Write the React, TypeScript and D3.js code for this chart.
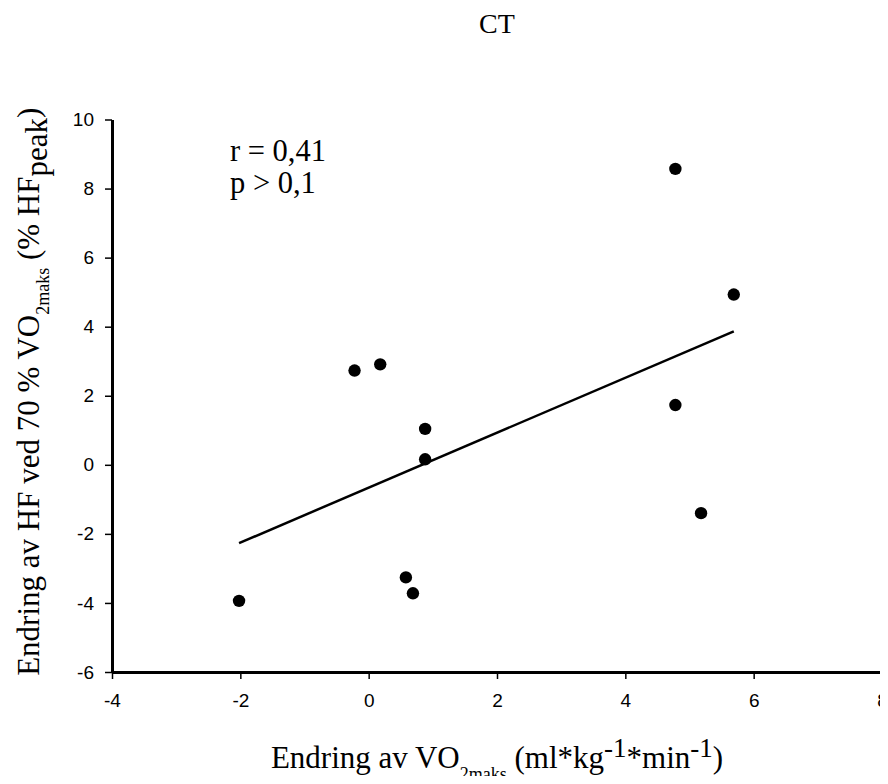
import React, { useRef, useEffect } from 'react';
import * as d3 from 'd3';

// change in VO2max (x) vs change in HR at 70 % VO2max (y), CT group
const xValues = [-2.02, -0.22, 0.18, 0.88, 0.88, 0.58, 0.69, 4.78, 5.69, 4.78, 5.18];
const yValues = [-3.94, 2.73, 2.91, 1.04, 0.16, -3.26, -3.72, 8.57, 4.93, 1.73, -1.4];
const xTicks = [-4, -2, 0, 2, 4, 6, 8];
const yTicks = [-6, -4, -2, 0, 2, 4, 6, 8, 10];
const statLines = ['r = 0,41', 'p > 0,1'];

const App = () => {
  const svgRef = useRef(null);

  useEffect(() => {
    const svg = d3.select(svgRef.current);
    svg.selectAll('*').remove();

    const serif = '"Liberation Serif", "Times New Roman", serif';
    const sans = '"Liberation Sans", Arial, sans-serif';

    const left = 112, right = 882, top = 119.5, bottom = 672;
    const midX = (left + right) / 2;
    const midY = (top + bottom) / 2;

    const x = d3.scaleLinear().domain([-4, 8]).range([left, right]);
    const y = d3.scaleLinear().domain([-6, 10]).range([bottom, top]);

    const data = xValues.map((v, i) => ({ x: v, y: yValues[i] }));

    // least squares fit over the data's x extent
    const mx = d3.mean(xValues);
    const my = d3.mean(yValues);
    const sxy = d3.sum(data, d => (d.x - mx) * (d.y - my));
    const sxx = d3.sum(data, d => (d.x - mx) ** 2);
    const slope = sxy / sxx;
    const icpt = my - slope * mx;
    const [x0, x1] = d3.extent(xValues);

    svg.append('line')
      .attr('x1', x(x0)).attr('y1', y(icpt + slope * x0))
      .attr('x2', x(x1)).attr('y2', y(icpt + slope * x1))
      .attr('stroke', '#000')
      .attr('stroke-width', 2.5);

    svg.selectAll('.dot')
      .data(data)
      .enter().append('circle')
      .attr('class', 'dot')
      .attr('cx', d => x(d.x))
      .attr('cy', d => y(d.y))
      .attr('r', 6.2)
      .attr('fill', '#000');

    const fmt = d => String(d);

    const xAxis = svg.append('g')
      .attr('transform', `translate(0,${bottom})`)
      .call(d3.axisBottom(x).tickValues(xTicks).tickFormat(fmt).tickSize(7).tickSizeOuter(0).tickPadding(15));

    const yAxis = svg.append('g')
      .attr('transform', `translate(${left},0)`)
      .call(d3.axisLeft(y).tickValues(yTicks).tickFormat(fmt).tickSize(7).tickSizeOuter(0).tickPadding(11));

    [xAxis, yAxis].forEach(ax => {
      ax.select('.domain').attr('stroke-width', 3).attr('stroke', '#000');
      ax.selectAll('.tick line').attr('stroke-width', 1.5).attr('stroke', '#000');
      ax.selectAll('.tick text')
        .attr('font-family', sans)
        .attr('font-size', 19)
        .attr('fill', '#000');
    });

    // title
    svg.append('text')
      .attr('x', midX)
      .attr('y', 33)
      .attr('text-anchor', 'middle')
      .attr('font-family', serif)
      .attr('font-size', 28)
      .text('CT');

    // r and p annotations
    svg.selectAll('.stat')
      .data(statLines)
      .enter().append('text')
      .attr('class', 'stat')
      .attr('x', 230)
      .attr('y', (d, i) => 161 + i * 32)
      .attr('font-family', serif)
      .attr('font-size', 30.5)
      .text(d => d);

    // x axis label
    const xl = svg.append('text')
      .attr('x', midX)
      .attr('y', 768)
      .attr('text-anchor', 'middle')
      .attr('font-family', serif)
      .attr('font-size', 31);
    xl.append('tspan').text('Endring av VO');
    xl.append('tspan').attr('dy', 12).attr('font-size', 18).text('2maks');
    xl.append('tspan').attr('dy', -12).text(' (ml*kg');
    xl.append('tspan').attr('dy', -11).attr('font-size', 27).text('-1');
    xl.append('tspan').attr('dy', 11).text('*min');
    xl.append('tspan').attr('dy', -11).attr('font-size', 27).text('-1');
    xl.append('tspan').attr('dy', 11).text(')');

    // y axis label
    const yl = svg.append('text')
      .attr('transform', `translate(39,${midY - 4}) rotate(-90)`)
      .attr('text-anchor', 'middle')
      .attr('font-family', serif)
      .attr('font-size', 31);
    yl.append('tspan').text('Endring av HF ved 70 % VO');
    yl.append('tspan').attr('dy', 10).attr('font-size', 18).text('2maks');
    yl.append('tspan').attr('dy', -10).text(' (% HF');
    yl.append('tspan').attr('dy', 8).text('peak');
    yl.append('tspan').attr('dy', -8).text(')');
  }, []);

  return <svg ref={svgRef} width={888} height={784} style={{ display: 'block', margin: '-8px' }}></svg>;
};

export default App;
